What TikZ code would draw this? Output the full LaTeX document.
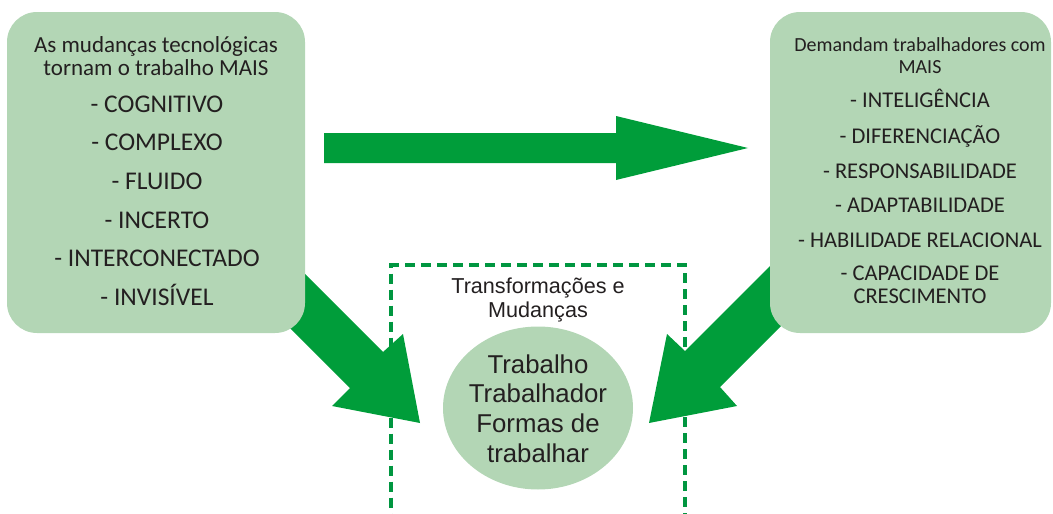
\documentclass[tikz,border=0pt]{standalone}
\usepackage{fontspec}
\setmainfont{Carlito}
\newfontfamily\arialf{Liberation Sans}
\usetikzlibrary{shapes.geometric}
\definecolor{boxgreen}{RGB}{179,214,181}
\definecolor{arrowgreen}{RGB}{0,157,58}
\definecolor{dashgreen}{RGB}{0,150,64}
\definecolor{ink}{RGB}{35,31,32}
\tikzset{
  greenbox/.style={fill=boxgreen, rounded corners=30pt, inner sep=0pt},
  blockarrow/.style={fill=arrowgreen},
  lhead/.style={text=ink, inner sep=0pt, anchor=base, font=\fontsize{23}{27}\selectfont},
  litem/.style={text=ink, inner sep=0pt, anchor=base, font=\fontsize{25.5}{30}\selectfont},
  rhead/.style={text=ink, inner sep=0pt, anchor=base, font=\fontsize{20}{24}\selectfont},
  ritem/.style={text=ink, inner sep=0pt, anchor=base, font=\fontsize{22.5}{27}\selectfont},
  ctitle/.style={text=ink, inner sep=0pt, anchor=base, font=\arialf\fontsize{21.6}{25}\selectfont},
  cword/.style={text=ink, inner sep=0pt, anchor=base, font=\arialf\fontsize{25.8}{30}\selectfont},
}
\begin{document}
\begin{tikzpicture}[x=1pt,y=-1pt]
\useasboundingbox (0,0) rectangle (1053,514);
% dashed frame
\node[draw=dashgreen, line width=4.5pt, dash pattern=on 10pt off 6pt, minimum width=294pt, minimum height=251.5pt, inner sep=0pt] (frame) at (538,390.75) {};
% block arrows
\fill[blockarrow] (324,133) -- (616,133) -- (616,116) -- (748,148) -- (616,180) -- (616,163) -- (324,163) -- cycle;
\fill[blockarrow] (263,232) -- (383,352) -- (403,334) -- (420,423) -- (332,406) -- (350,388) -- (230,268) -- cycle;
\fill[blockarrow] (805,231) -- (685,351) -- (667,334) -- (649,423) -- (737,406) -- (720,387) -- (840,267) -- cycle;
% boxes
\node[greenbox, minimum width=298pt, minimum height=321pt] (left) at (156,172.5) {};
\node[greenbox, minimum width=281pt, minimum height=321pt] (right) at (910.5,172.5) {};
\node[ellipse, fill=boxgreen, inner sep=0pt, minimum width=190pt, minimum height=163pt] (core) at (538,408) {};
% left texts
\node[lhead] (lh1) at (156,52) {As mudanças tecnológicas};
\node[lhead] (lh2) at (156,75) {tornam o trabalho MAIS};
\foreach \yy/\tt [count=\i] in {112/- COGNITIVO, 150/- COMPLEXO, 189/- FLUIDO, 228/- INCERTO, 266/- INTERCONECTADO, 305/- INVISÍVEL}
  \node[litem] (li\i) at (157,\yy) {\tt};
% right texts
\node[rhead] (rh1) at (920,51) {Demandam trabalhadores com};
\node[rhead] (rh2) at (920,73) {MAIS};
\foreach \yy/\tt [count=\i] in {107/- INTELIGÊNCIA, 143/- DIFERENCIAÇÃO, 178/- RESPONSABILIDADE, 212/- ADAPTABILIDADE, 247/- HABILIDADE RELACIONAL, 280/- CAPACIDADE DE, 303/CRESCIMENTO}
  \node[ritem] (ri\i) at (920,\yy) {\tt};
% center texts
\node[ctitle] (ct1) at (538,293) {Transformações e};
\node[ctitle] (ct2) at (538,317) {Mudanças};
\node[cword] (cw1) at (538,373) {Trabalho};
\node[cword] (cw2) at (538,402) {Trabalhador};
\node[cword] (cw3) at (538,432) {Formas de};
\node[cword] (cw4) at (538,462) {trabalhar};
\end{tikzpicture}
\end{document}
